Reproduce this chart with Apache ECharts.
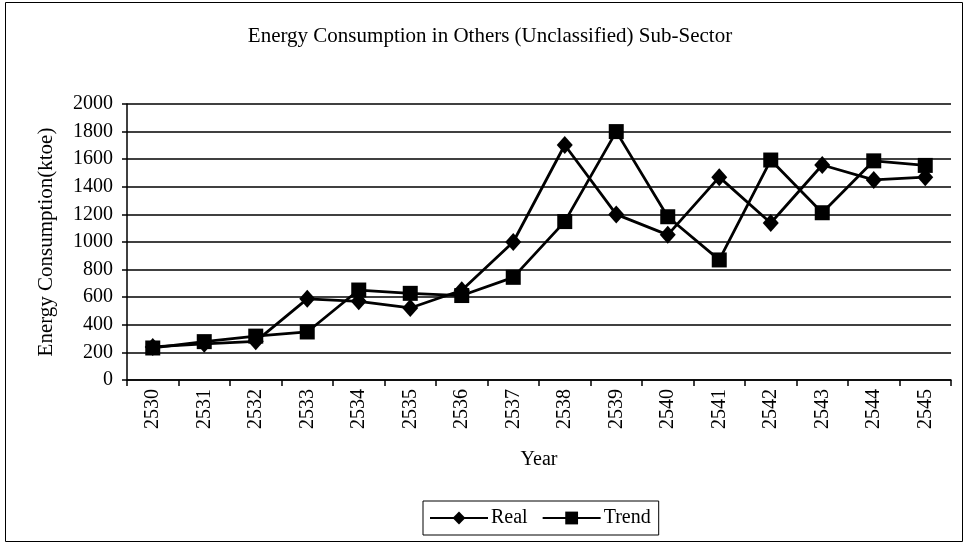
<!DOCTYPE html>
<html>
<head>
<meta charset="utf-8">
<script src="https://cdn.jsdelivr.net/npm/echarts@6/dist/echarts.min.js"></script>
<style>
  html, body { margin: 0; padding: 0; background: #fff; }
  #chart { width: 967px; height: 546px; }
</style>
</head>
<body>
<div id="chart"></div>
<script>
    // values (ktoe)
    var years = ['2530', '2531', '2532', '2533', '2534', '2535', '2536', '2537',
                 '2538', '2539', '2540', '2541', '2542', '2543', '2544', '2545'];
    var realValues = [240, 262, 280, 588, 570, 522, 650, 1000,
                      1703, 1200, 1052, 1470, 1138, 1558, 1450, 1470];
    var trendValues = [232, 278, 318, 348, 652, 628, 612, 744,
                       1148, 1800, 1183, 870, 1594, 1212, 1588, 1555];

    var fontFam = '"Liberation Serif", "Times New Roman", serif';

    var myChart = echarts.init(document.getElementById('chart'));
    var option = {
        animation: false,
        backgroundColor: '#fff',
        textStyle: { fontFamily: fontFam, color: '#000' },
        graphic: [{
            type: 'rect',
            shape: { x: 5.5, y: 2.5, width: 957, height: 539 },
            style: { fill: null, stroke: '#000', lineWidth: 1 }
        }],
        title: {
            text: 'Energy Consumption in Others (Unclassified) Sub-Sector',
            left: 485,
            top: 21,
            textAlign: 'center',
            textStyle: { fontFamily: fontFam, fontSize: 21, fontWeight: 'normal', color: '#000' }
        },
        grid: { left: 127, right: 16, top: 104, bottom: 166 },
        legend: {
            left: 423,
            top: 501,
            itemWidth: 58,
            itemHeight: 16,
            itemGap: 14,
            padding: [7, 8, 7, 6],
            borderColor: '#000',
            borderWidth: 1,
            textStyle: { fontFamily: fontFam, fontSize: 20, color: '#000', padding: [0, 0, 0, -2] },
            data: ['Real', 'Trend']
        },
        xAxis: {
            type: 'category',
            data: years,
            name: 'Year',
            nameLocation: 'middle',
            nameGap: 70,
            nameTextStyle: { fontFamily: fontFam, fontSize: 20, color: '#000' },
            boundaryGap: true,
            axisLine: { lineStyle: { color: '#000', width: 1.5 } },
            axisTick: { show: true, length: 6, lineStyle: { color: '#000', width: 1.5 } },
            axisLabel: { rotate: 90, margin: 9, fontFamily: fontFam, fontSize: 20, color: '#000' }
        },
        yAxis: {
            type: 'value',
            min: 0,
            max: 2000,
            interval: 200,
            name: 'Energy Consumption(ktoe)',
            nameLocation: 'middle',
            nameGap: 70,
            nameTextStyle: { fontFamily: fontFam, fontSize: 21, color: '#000' },
            axisLine: { show: true, lineStyle: { color: '#000', width: 1.5 } },
            axisTick: { show: true, length: 5, lineStyle: { color: '#000', width: 1.5 } },
            axisLabel: {
                margin: 14,
                fontFamily: fontFam,
                fontSize: 20,
                color: '#000',
                formatter: function (v) { return String(v); }
            },
            splitLine: { show: true, lineStyle: { color: '#000', width: 1.5 } }
        },
        series: [
            {
                name: 'Real',
                type: 'line',
                data: realValues,
                symbol: 'diamond',
                symbolSize: [16, 18],
                showAllSymbol: true,
                itemStyle: { color: '#000' },
                lineStyle: { color: '#000', width: 2.8 }
            },
            {
                name: 'Trend',
                type: 'line',
                data: trendValues,
                symbol: 'rect',
                symbolSize: 15,
                showAllSymbol: true,
                itemStyle: { color: '#000' },
                lineStyle: { color: '#000', width: 2.8 }
            }
        ]
    };
    myChart.setOption(option);
</script>
</body>
</html>
